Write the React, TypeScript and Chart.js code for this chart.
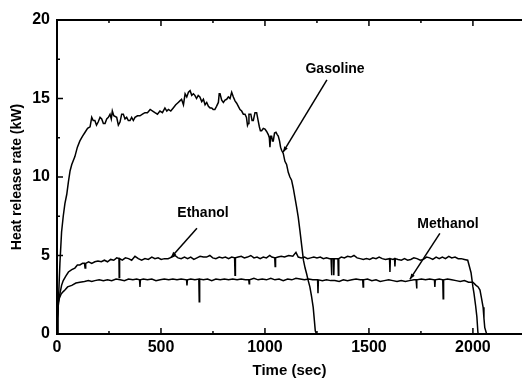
import React, { useEffect, useRef } from 'react';
import { Chart, registerables } from 'chart.js';

Chart.register(...registerables);

const FONT = 'Arial, "Liberation Sans", Helvetica, sans-serif';

const xTicks = [0, 500, 1000, 1500, 2000];
const yTicks = [0, 5, 10, 15, 20];
const xTitle = 'Time (sec)';
const yTitle = 'Heat release rate (kW)';
const seriesNames = ['Gasoline', 'Ethanol', 'Methanol'];

const gasoline: [number, number][] = [
  [0, 0], [4, 1.0], [8, 2.5], [14, 4.5], [22, 6.5], [30, 7.5], [38, 8.3], [47, 8.9], [55, 9.7], [63, 10.4],
  [71, 10.8], [86, 11.3], [98, 11.9], [110, 12.3], [123, 12.6], [135, 12.85], [147, 13.1], [159, 13.2],
  [167, 13.8], [174, 13.6], [182, 13.6], [190, 13.3], [198, 13.5], [207, 13.8], [215, 13.7], [223, 13.4],
  [231, 13.4], [239, 13.7], [247, 13.8], [255, 14.0], [261, 13.7], [266, 14.2], [273, 13.9], [287, 13.8],
  [295, 13.3], [303, 13.5], [311, 14.0], [319, 14.0], [327, 13.7], [335, 13.8], [343, 13.6], [351, 13.6],
  [359, 13.8], [367, 13.6], [375, 13.8], [387, 13.9], [399, 13.9], [411, 14.0], [423, 14.1], [435, 14.1],
  [448, 14.3], [460, 14.2], [471, 14.1], [483, 14.0], [495, 14.2], [507, 14.1], [519, 14.4], [528, 14.2],
  [536, 14.3], [547, 14.2], [559, 14.4], [571, 14.6], [583, 14.75], [591, 14.85], [599, 14.95], [608, 14.6],
  [616, 15.3], [624, 15.1], [632, 15.4], [640, 15.5], [648, 15.2], [656, 15.3], [663, 15.2], [671, 15.0],
  [679, 15.2], [687, 15.1], [696, 14.8], [704, 14.95], [712, 14.6], [720, 14.75], [728, 14.5], [736, 14.4],
  [744, 14.4], [751, 14.3], [759, 14.3], [767, 14.5], [776, 14.75], [780, 15.3], [784, 15.3], [792, 14.9],
  [800, 14.75], [808, 14.9], [816, 14.95], [824, 15.1], [832, 15.0], [840, 15.4], [848, 15.1], [856, 14.85],
  [864, 14.7], [872, 14.5], [880, 14.3], [888, 14.2], [896, 14.0], [904, 14.0], [911, 13.8], [916, 13.3],
  [919, 13.4], [923, 14.0], [932, 14.0], [938, 13.6], [944, 13.6], [952, 14.1], [960, 14.1], [967, 13.6],
  [973, 13.2], [978, 12.95], [984, 12.95], [992, 13.1], [1000, 13.05], [1008, 12.9], [1016, 12.7],
  [1021, 12.5], [1024, 11.9], [1027, 12.6], [1032, 12.6], [1036, 12.3], [1040, 12.3], [1046, 12.8],
  [1053, 12.85], [1059, 12.7], [1064, 12.6], [1070, 12.3], [1075, 11.9], [1080, 11.7], [1088, 11.5],
  [1096, 11.0], [1104, 10.8], [1112, 10.3], [1120, 10.0], [1128, 9.8], [1136, 9.3], [1144, 8.7], [1152, 8.1],
  [1160, 7.45], [1168, 6.6], [1177, 5.6], [1185, 4.7], [1193, 4.2], [1200, 3.85], [1208, 3.4], [1216, 3.0],
  [1224, 2.4], [1232, 1.7], [1238, 0.8], [1242, 0.2], [1248, 0], [2236, 0],
];

const ethanol: [number, number][] = [
  [0, 0], [3, 1.0], [6, 1.8], [10, 2.3], [16, 2.7], [22, 3.1], [30, 3.4], [43, 3.7], [55, 3.95], [71, 4.1],
  [86, 4.2], [98, 4.4], [110, 4.4], [123, 4.5], [132, 4.5], [135, 4.2], [138, 4.5], [152, 4.6], [167, 4.5],
  [182, 4.6], [197, 4.65], [213, 4.6], [228, 4.7], [243, 4.6], [258, 4.75], [273, 4.7], [287, 4.85],
  [298, 4.8], [299, 3.6], [301, 4.8], [314, 4.7], [329, 4.85], [344, 4.8], [359, 4.7], [375, 4.95],
  [391, 4.8], [407, 4.7], [423, 4.8], [439, 4.75], [456, 4.9], [471, 4.8], [486, 4.85], [501, 4.75],
  [517, 4.8], [534, 4.8], [552, 4.9], [567, 5.0], [582, 4.85], [597, 4.8], [613, 4.9], [628, 4.8],
  [643, 4.9], [658, 4.75], [673, 4.85], [688, 4.95], [704, 4.9], [719, 4.9], [735, 5.0], [749, 4.85],
  [764, 4.8], [780, 4.9], [795, 4.85], [810, 4.9], [825, 4.8], [840, 4.9], [854, 4.85], [856, 3.75],
  [858, 4.85], [871, 4.9], [886, 4.95], [901, 4.85], [916, 4.9], [932, 5.0], [947, 4.85], [962, 4.9],
  [977, 4.8], [992, 4.9], [1007, 4.85], [1023, 5.0], [1033, 4.9], [1047, 4.85], [1049, 4.3], [1051, 4.85],
  [1063, 4.9], [1078, 4.95], [1094, 4.9], [1114, 5.0], [1134, 4.95], [1149, 5.2], [1160, 4.9],
  [1175, 4.85], [1190, 4.9], [1205, 4.8], [1220, 4.85], [1235, 4.9], [1250, 4.85], [1266, 4.9],
  [1281, 4.8], [1296, 4.85], [1311, 4.8], [1318, 4.8], [1320, 3.75], [1322, 4.8], [1329, 4.8],
  [1331, 3.75], [1333, 4.8], [1351, 4.8], [1353, 3.75], [1355, 4.8], [1367, 4.9], [1382, 4.85],
  [1397, 4.95], [1413, 4.9], [1428, 5.0], [1443, 4.85], [1458, 4.8], [1473, 4.75], [1488, 4.8],
  [1504, 4.75], [1519, 4.85], [1534, 4.8], [1549, 4.9], [1564, 4.8], [1579, 4.75], [1599, 4.8],
  [1601, 3.95], [1603, 4.8], [1615, 4.75], [1623, 4.8], [1625, 4.3], [1627, 4.8], [1640, 4.75],
  [1656, 4.7], [1671, 4.8], [1686, 4.7], [1701, 4.75], [1716, 4.85], [1731, 4.8], [1747, 4.7],
  [1762, 4.75], [1777, 4.9], [1792, 4.85], [1807, 4.75], [1823, 4.9], [1838, 4.8], [1853, 4.9],
  [1868, 4.8], [1884, 4.95], [1898, 4.85], [1914, 4.9], [1929, 4.8], [1944, 4.8], [1959, 4.75],
  [1975, 4.7], [1985, 4.2], [1991, 3.9], [2000, 3.0], [2005, 2.6], [2013, 1.8], [2019, 1.1], [2024, 0.1],
  [2027, 0], [2236, 0],
];

const methanol: [number, number][] = [
  [0, 0], [3, 1.0], [6, 2.0], [12, 2.3], [20, 2.55], [30, 2.7], [38, 2.8], [51, 3.0], [71, 3.1], [91, 3.25],
  [110, 3.3], [132, 3.35], [151, 3.4], [167, 3.35], [182, 3.4], [203, 3.45], [223, 3.4], [243, 3.45],
  [263, 3.4], [284, 3.5], [304, 3.45], [324, 3.4], [344, 3.5], [365, 3.45], [383, 3.5], [397, 3.45],
  [399, 3.0], [401, 3.45], [415, 3.5], [435, 3.45], [456, 3.5], [476, 3.4], [496, 3.45], [516, 3.5],
  [537, 3.45], [557, 3.5], [577, 3.45], [597, 3.5], [623, 3.45], [625, 3.1], [627, 3.45], [643, 3.5],
  [663, 3.45], [682, 3.5], [684, 2.05], [686, 3.5], [704, 3.45], [724, 3.5], [744, 3.4], [764, 3.5],
  [785, 3.45], [805, 3.5], [825, 3.45], [845, 3.5], [866, 3.45], [886, 3.5], [906, 3.45], [922, 3.45],
  [924, 3.2], [926, 3.45], [947, 3.55], [967, 3.45], [987, 3.5], [1007, 3.45], [1028, 3.55], [1048, 3.45],
  [1068, 3.5], [1088, 3.4], [1109, 3.5], [1129, 3.45], [1149, 3.55], [1169, 3.5], [1190, 3.45],
  [1210, 3.5], [1230, 3.45], [1253, 3.45], [1255, 2.6], [1257, 3.45], [1276, 3.4], [1296, 3.45],
  [1316, 3.4], [1336, 3.4], [1357, 3.35], [1377, 3.45], [1397, 3.4], [1418, 3.45], [1438, 3.5],
  [1458, 3.45], [1470, 3.45], [1472, 3.0], [1474, 3.45], [1493, 3.5], [1514, 3.4], [1534, 3.45],
  [1554, 3.35], [1574, 3.4], [1595, 3.45], [1615, 3.4], [1635, 3.35], [1655, 3.4], [1675, 3.35],
  [1695, 3.4], [1716, 3.45], [1727, 3.45], [1729, 2.9], [1731, 3.45], [1752, 3.5], [1772, 3.45],
  [1792, 3.5], [1815, 3.45], [1817, 3.0], [1819, 3.45], [1838, 3.5], [1855, 3.45], [1857, 2.25],
  [1859, 3.45], [1878, 3.5], [1898, 3.45], [1919, 3.4], [1939, 3.35], [1959, 3.4], [1979, 3.3],
  [2000, 3.3], [2015, 3.1], [2025, 3.0], [2034, 2.8], [2041, 2.3], [2049, 1.7], [2053, 1.0], [2057, 0.4],
  [2066, 0], [2236, 0],
];

// callout labels with leader arrows (data coordinates)
const callouts = [
  { text: 'Gasoline', label: [1337, 16.88], from: [1298, 16.18], to: [1087, 11.58] },
  { text: 'Ethanol', label: [702, 7.69], from: [673, 6.73], to: [548, 4.88] },
  { text: 'Methanol', label: [1880, 6.99], from: [1841, 6.41], to: [1697, 3.48] },
];

const framePlugin = {
  id: 'frame',
  afterDatasetsDraw(chart: any) {
    const { ctx, chartArea: a, scales } = chart;
    const x = scales.x;
    const y = scales.y;
    ctx.save();
    ctx.strokeStyle = '#000';
    ctx.fillStyle = '#000';
    ctx.lineCap = 'butt';
    ctx.lineWidth = 2;
    ctx.beginPath();
    ctx.moveTo(a.right + 4, a.top);
    ctx.lineTo(a.left, a.top);
    ctx.lineTo(a.left, a.bottom);
    ctx.lineTo(a.right + 4, a.bottom);
    ctx.stroke();

    ctx.lineWidth = 1.5;
    const seg = (x1: number, y1: number, x2: number, y2: number) => {
      ctx.beginPath();
      ctx.moveTo(x1, y1);
      ctx.lineTo(x2, y2);
      ctx.stroke();
    };
    for (let v = 0; v <= x.max; v += 250) {
      const px = x.getPixelForValue(v);
      const len = v % 500 === 0 ? 6 : 3;
      seg(px, a.bottom, px, a.bottom - len);
      seg(px, a.top, px, a.top + len);
    }
    for (let v = 0; v <= y.max; v += 2.5) {
      const py = y.getPixelForValue(v);
      const len = v % 5 === 0 ? 6 : 3;
      seg(a.left, py, a.left + len, py);
    }

    ctx.font = `bold 14px ${FONT}`;
    ctx.textAlign = 'center';
    ctx.textBaseline = 'middle';
    for (const c of callouts) {
      const lx = x.getPixelForValue(c.label[0]);
      const ly = y.getPixelForValue(c.label[1]);
      ctx.fillText(c.text, lx, ly);
      const fx = x.getPixelForValue(c.from[0]);
      const fy = y.getPixelForValue(c.from[1]);
      const tx = x.getPixelForValue(c.to[0]);
      const ty = y.getPixelForValue(c.to[1]);
      ctx.lineWidth = 1.5;
      seg(fx, fy, tx, ty);
      const ang = Math.atan2(ty - fy, tx - fx);
      const h = 6;
      ctx.beginPath();
      ctx.moveTo(tx, ty);
      ctx.lineTo(tx - h * Math.cos(ang - 0.35), ty - h * Math.sin(ang - 0.35));
      ctx.lineTo(tx - h * Math.cos(ang + 0.35), ty - h * Math.sin(ang + 0.35));
      ctx.closePath();
      ctx.fill();
    }
    ctx.restore();
  },
};

export default function App() {
  const canvasRef = useRef<HTMLCanvasElement | null>(null);

  useEffect(() => {
    document.body.style.margin = '0';
    const canvas = canvasRef.current;
    if (!canvas) return;
    const allSeries = [gasoline, ethanol, methanol];
    const chart = new Chart(canvas, {
      type: 'line',
      data: {
        datasets: allSeries.map((s, i) => ({
          label: seriesNames[i],
          data: s.map(([t, v]) => ({ x: t, y: v })),
          borderColor: '#000',
          borderWidth: 1.5,
          pointRadius: 0,
          tension: 0,
          fill: false,
        })),
      },
      options: {
        animation: false,
        responsive: false,
        devicePixelRatio: 1,
        layout: { padding: { top: 20, right: 0, left: 0, bottom: 0 } },
        plugins: { legend: { display: false }, tooltip: { enabled: false } },
        scales: {
          x: {
            type: 'linear',
            min: 0,
            max: 2236,
            afterFit: (s: any) => { s.height = 44; },
            afterBuildTicks: (s: any) => { s.ticks = xTicks.map((v) => ({ value: v })); },
            grid: { display: false, drawTicks: false },
            border: { display: false },
            ticks: {
              autoSkip: false,
              maxRotation: 0,
              padding: 4,
              color: '#000',
              font: { family: FONT, size: 16, weight: 'bold' },
              callback: (v: any) => String(v),
            },
            title: {
              display: true,
              text: xTitle,
              color: '#000',
              font: { family: FONT, size: 15, weight: 'bold' },
              padding: { top: 0, bottom: -2 },
            },
          },
          y: {
            type: 'linear',
            min: 0,
            max: 20,
            afterFit: (s: any) => { s.width = 57; },
            afterBuildTicks: (s: any) => { s.ticks = yTicks.map((v) => ({ value: v })); },
            grid: { display: false, drawTicks: false },
            border: { display: false },
            ticks: {
              autoSkip: false,
              padding: 7,
              color: '#000',
              font: { family: FONT, size: 16, weight: 'bold' },
              callback: (v: any) => String(v),
            },
            title: {
              display: true,
              text: yTitle,
              color: '#000',
              font: { family: FONT, size: 14, weight: 'bold' },
              padding: { top: 9, bottom: 0 },
            },
          },
        },
      } as any,
      plugins: [framePlugin],
    });
    return () => chart.destroy();
  }, []);

  return (
    <div style={{ position: 'absolute', left: 0, top: 0, width: 522, height: 378, background: '#fff' }}>
      <canvas ref={canvasRef} width={522} height={378} style={{ display: 'block' }} />
    </div>
  );
}
